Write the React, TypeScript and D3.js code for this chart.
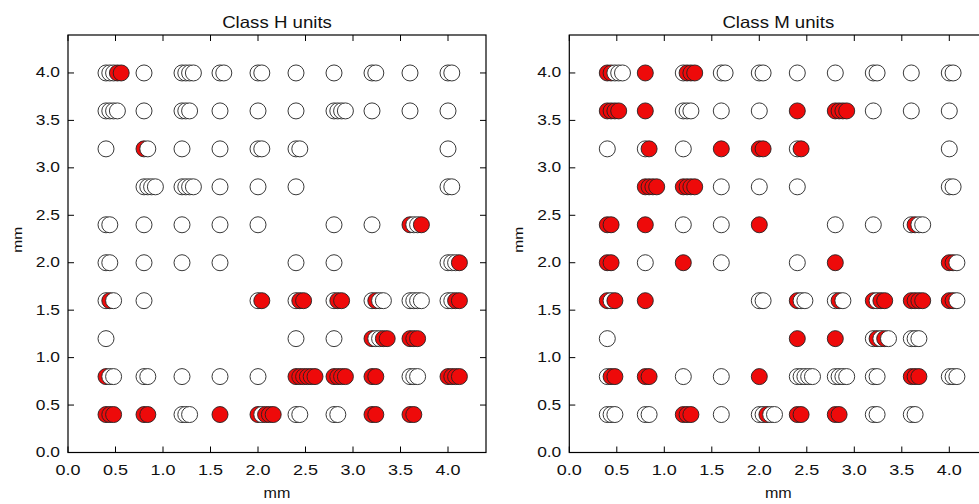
import React from "react";
import * as d3 from "d3";

const W = 979;
const H = 504;

const tickValues = [0, 0.5, 1, 1.5, 2, 2.5, 3, 3.5, 4];
const panelTitles = ["Class H units", "Class M units"];
const axisLabel = "mm";

// each cluster: [x mm, y mm, hits] ; w = open circle, r = red circle
// repeated hits at the same spot are drawn side by side with a small shift
const classH: [number, number, string][] = [
  [0.4, 4.0, "wwwrr"], [0.8, 4.0, "w"], [1.2, 4.0, "wwww"], [1.6, 4.0, "ww"], [2.0, 4.0, "ww"],
  [2.4, 4.0, "w"], [2.8, 4.0, "w"], [3.2, 4.0, "ww"], [3.6, 4.0, "w"], [4.0, 4.0, "ww"],
  [0.4, 3.6, "wwww"], [0.8, 3.6, "w"], [1.2, 3.6, "www"], [1.6, 3.6, "w"], [2.0, 3.6, "w"],
  [2.4, 3.6, "w"], [2.8, 3.6, "wwww"], [3.2, 3.6, "w"], [3.6, 3.6, "w"], [4.0, 3.6, "w"],
  [0.4, 3.2, "w"], [0.8, 3.2, "rw"], [1.2, 3.2, "w"], [1.6, 3.2, "w"], [2.0, 3.2, "ww"],
  [2.4, 3.2, "ww"], [4.0, 3.2, "w"],
  [0.8, 2.8, "wwww"], [1.2, 2.8, "wwww"], [1.6, 2.8, "w"], [2.0, 2.8, "w"], [2.4, 2.8, "w"],
  [4.0, 2.8, "ww"],
  [0.4, 2.4, "ww"], [0.8, 2.4, "w"], [1.2, 2.4, "w"], [1.6, 2.4, "w"], [2.0, 2.4, "w"],
  [2.8, 2.4, "w"], [3.2, 2.4, "w"], [3.6, 2.4, "rwwr"],
  [0.4, 2.0, "ww"], [0.8, 2.0, "w"], [1.2, 2.0, "w"], [1.6, 2.0, "w"], [2.4, 2.0, "w"],
  [2.8, 2.0, "w"], [4.0, 2.0, "wwwr"],
  [0.4, 1.6, "wrw"], [0.8, 1.6, "w"], [2.0, 1.6, "wr"], [2.4, 1.6, "wrr"], [2.8, 1.6, "wrr"],
  [3.2, 1.6, "wrww"], [3.6, 1.6, "wwww"], [4.0, 1.6, "wwrr"],
  [0.4, 1.2, "w"], [2.4, 1.2, "w"], [2.8, 1.2, "w"], [3.2, 1.2, "rwwrr"], [3.6, 1.2, "rrr"],
  [0.4, 0.8, "rww"], [0.8, 0.8, "ww"], [1.2, 0.8, "w"], [1.6, 0.8, "w"], [2.0, 0.8, "w"],
  [2.4, 0.8, "rrrrrr"], [2.8, 0.8, "rrrr"], [3.2, 0.8, "rr"], [3.6, 0.8, "www"], [4.0, 0.8, "rrrr"],
  [0.4, 0.4, "rrr"], [0.8, 0.4, "rr"], [1.2, 0.4, "www"], [1.6, 0.4, "r"], [2.0, 0.4, "rwrrr"],
  [2.4, 0.4, "ww"], [2.8, 0.4, "ww"], [3.2, 0.4, "rr"], [3.6, 0.4, "rr"],
];

const classM: [number, number, string][] = [
  [0.4, 4.0, "rrwww"], [0.8, 4.0, "r"], [1.2, 4.0, "wrrr"], [1.6, 4.0, "ww"], [2.0, 4.0, "ww"],
  [2.4, 4.0, "w"], [2.8, 4.0, "w"], [3.2, 4.0, "ww"], [3.6, 4.0, "w"], [4.0, 4.0, "ww"],
  [0.4, 3.6, "rrrr"], [0.8, 3.6, "r"], [1.2, 3.6, "www"], [1.6, 3.6, "w"], [2.0, 3.6, "w"],
  [2.4, 3.6, "r"], [2.8, 3.6, "rrrr"], [3.2, 3.6, "w"], [3.6, 3.6, "w"], [4.0, 3.6, "w"],
  [0.4, 3.2, "w"], [0.8, 3.2, "wr"], [1.2, 3.2, "w"], [1.6, 3.2, "r"], [2.0, 3.2, "rr"],
  [2.4, 3.2, "wr"], [4.0, 3.2, "w"],
  [0.8, 2.8, "rrrr"], [1.2, 2.8, "rrrr"], [1.6, 2.8, "w"], [2.0, 2.8, "w"], [2.4, 2.8, "w"],
  [4.0, 2.8, "ww"],
  [0.4, 2.4, "rr"], [0.8, 2.4, "r"], [1.2, 2.4, "w"], [1.6, 2.4, "w"], [2.0, 2.4, "r"],
  [2.8, 2.4, "w"], [3.2, 2.4, "w"], [3.6, 2.4, "wrww"],
  [0.4, 2.0, "rr"], [0.8, 2.0, "w"], [1.2, 2.0, "r"], [1.6, 2.0, "w"], [2.4, 2.0, "w"],
  [2.8, 2.0, "r"], [4.0, 2.0, "rrw"],
  [0.4, 1.6, "rwr"], [0.8, 1.6, "r"], [2.0, 1.6, "ww"], [2.4, 1.6, "rww"], [2.8, 1.6, "wrw"],
  [3.2, 1.6, "rwrr"], [3.6, 1.6, "rrrr"], [4.0, 1.6, "rrw"],
  [0.4, 1.2, "w"], [2.4, 1.2, "r"], [2.8, 1.2, "r"], [3.2, 1.2, "wrwrw"], [3.6, 1.2, "www"],
  [0.4, 0.8, "wrr"], [0.8, 0.8, "rr"], [1.2, 0.8, "w"], [1.6, 0.8, "w"], [2.0, 0.8, "r"],
  [2.4, 0.8, "wwwww"], [2.8, 0.8, "wwww"], [3.2, 0.8, "ww"], [3.6, 0.8, "rrr"], [4.0, 0.8, "www"],
  [0.4, 0.4, "www"], [0.8, 0.4, "ww"], [1.2, 0.4, "rrr"], [1.6, 0.4, "w"], [2.0, 0.4, "wwrww"],
  [2.4, 0.4, "rr"], [2.8, 0.4, "rr"], [3.2, 0.4, "ww"], [3.6, 0.4, "ww"],
];

const panels = [classH, classM];

const shift = 0.04; // mm between repeated hits
const red = "#ee0a0a";
const font = "'Liberation Sans', Arial, Helvetica, sans-serif";
const fmt = d3.format(".1f");

// the source figure has slightly wide lettering
const Label = ({ x, y, anchor, size, sx, rotate = 0, children }: any) => (
  <text
    transform={`translate(${x},${y}) rotate(${rotate}) scale(${sx},1)`}
    textAnchor={anchor}
    fontSize={size}
  >
    {children}
  </text>
);

const Panel = ({ data, title, left }: { data: [number, number, string][]; title: string; left: number }) => {
  const top = 35;
  const bottom = 452.5;
  const width = 418;
  const x = d3.scaleLinear().domain([0, 4.4]).range([left, left + width]);
  const y = d3.scaleLinear().domain([0, 4.4]).range([bottom, top]);
  const tl = 6;

  const points = data.flatMap(([cx, cy, hits]) =>
    hits.split("").map((h, i) => ({ x: cx + i * shift, y: cy, red: h === "r" }))
  );

  return (
    <g fontFamily={font} fill="#111">
      <Label x={left + width / 2} y={27.5} anchor="middle" size={16.5} sx={1.13}>
        {title}
      </Label>
      {points.map((p, i) => (
        <circle
          key={i}
          cx={x(p.x)}
          cy={y(p.y)}
          r={8}
          fill={p.red ? red : "#fff"}
          stroke="#222"
          strokeWidth={0.9}
        />
      ))}
      <rect x={left} y={top} width={width} height={bottom - top} fill="none" stroke="#000" strokeWidth={1.2} />
      {tickValues.map((t) => (
        <g key={"x" + t}>
          <line x1={x(t)} x2={x(t)} y1={bottom} y2={bottom - tl} stroke="#000" />
          <line x1={x(t)} x2={x(t)} y1={top} y2={top + tl} stroke="#000" />
          <Label x={x(t)} y={bottom + 22} anchor="middle" size={15} sx={1.2}>
            {fmt(t)}
          </Label>
        </g>
      ))}
      {tickValues.map((t) => (
        <g key={"y" + t}>
          <line x1={left} x2={left + tl} y1={y(t)} y2={y(t)} stroke="#000" />
          <line x1={left + width} x2={left + width - tl} y1={y(t)} y2={y(t)} stroke="#000" />
          <Label x={left - 8} y={y(t) + 4.5} anchor="end" size={14.5} sx={1.2}>
            {fmt(t)}
          </Label>
        </g>
      ))}
      <Label x={left + width / 2} y={498} anchor="middle" size={14} sx={1.15}>
        {axisLabel}
      </Label>
      <Label x={left - 46} y={(top + bottom) / 2 - 4} anchor="middle" size={13} sx={1.2} rotate={-90}>
        {axisLabel}
      </Label>
    </g>
  );
};

export default function App() {
  const lefts = [68, 569.3];
  return (
    <svg
      width={W}
      height={H}
      style={{ position: "fixed", top: 0, left: 0, background: "#fff" }}
    >
      <rect width={W} height={H} fill="#fff" />
      {panels.map((d, i) => (
        <Panel key={i} data={d} title={panelTitles[i]} left={lefts[i]} />
      ))}
    </svg>
  );
}
